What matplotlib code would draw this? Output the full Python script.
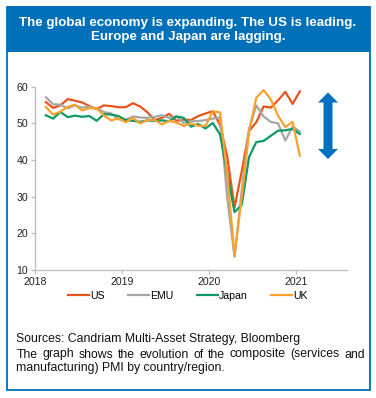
import numpy as np
import pandas as pd
import matplotlib
matplotlib.use('Agg')
import matplotlib.pyplot as plt
from matplotlib.patches import Rectangle, Polygon

plt.rcParams['font.family'] = ['Liberation Sans', 'DejaVu Sans']

## composite PMI, monthly Feb 2018 - Jan 2021
months = pd.date_range('2018-02-01', periods=36, freq='MS')
us = [55.8, 54.2, 54.9, 56.6, 56.2, 55.7, 54.7, 53.9, 54.9, 54.7, 54.4,
      54.4, 55.5, 54.6, 53.0, 50.9, 51.5, 52.6, 50.7, 51.0, 50.9, 52.0, 52.7,
      53.3, 49.6, 40.9, 27.0, 37.0, 47.9, 50.3, 54.6, 54.3, 56.3, 58.6, 55.3,
      58.7]
emu = [57.1, 55.2, 55.1, 54.1, 54.9, 54.3, 54.5, 54.1, 53.1, 52.7, 51.1,
       51.0, 51.9, 51.6, 51.5, 51.8, 52.2, 51.5, 51.9, 50.1, 50.6, 50.6, 50.9,
       51.3, 51.6, 29.7, 13.6, 31.9, 48.5, 54.9, 51.9, 50.4, 50.0, 45.3, 49.1,
       47.8]
japan = [52.2, 51.3, 53.1, 51.7, 52.1, 51.8, 52.0, 50.7, 52.5, 52.4, 52.0,
         50.9, 50.7, 50.4, 50.8, 50.7, 50.8, 50.6, 51.9, 51.5, 49.1, 49.8, 48.6,
         50.1, 47.0, 36.2, 25.8, 27.8, 40.8, 44.9, 45.2, 46.6, 48.0, 48.1, 48.5,
         47.1]
uk = [54.5, 52.4, 53.2, 54.5, 55.1, 53.5, 54.2, 54.1, 52.1, 50.8, 51.4,
      50.3, 51.5, 50.0, 50.9, 50.9, 49.7, 50.7, 50.2, 49.3, 50.0, 49.3, 49.3,
      53.3, 53.0, 36.0, 13.8, 30.0, 47.7, 57.0, 59.1, 56.5, 52.1, 49.0, 50.4,
      41.2]
series = {'US': us, 'EMU': emu, 'Japan': japan, 'UK': uk}
colors = {'US': '#E8551C', 'EMU': '#A6A6A6', 'Japan': '#0E9A62', 'UK': '#F9A12E'}
years = [2018, 2019, 2020, 2021]

title = 'The global economy is expanding. The US is leading.\nEurope and Japan are lagging.'
source = 'Sources: Candriam Multi-Asset Strategy, Bloomberg'
note1 = 'The graph shows the evolution of the composite (services and'
note2 = 'manufacturing) PMI by country/region.'

W, H = 376, 398
blue = '#0070B8'
fig = plt.figure(figsize=(W / 100, H / 100), dpi=100)
fig.patch.set_facecolor('white')

def fx(px):
    return px / W

def fy(py):
    return 1 - py / H

## frame and title band
fig.patches.append(Rectangle((fx(6.5), fy(390)), fx(363), (390 - 6.5) / H,
                             transform=fig.transFigure, fill=False,
                             edgecolor=blue, linewidth=1.3))
fig.patches.append(Rectangle((fx(6.5), fy(52)), fx(363), 46 / H,
                             transform=fig.transFigure, facecolor=blue,
                             edgecolor='none'))
fig.text(fx(188), fy(30), title, color='white', fontsize=9.6,
         fontweight='bold', ha='center', va='center', linespacing=1.2)

## chart
ax = fig.add_axes([fx(35), fy(270), fx(346.7 - 35), (270 - 86.7) / H])
x = months.year + (months.month - 0.5) / 12
for name, vals in series.items():
    ax.plot(x, vals, color=colors[name], lw=1.6, label=name)
ax.set_xlim(2018, 2021.58)
ax.set_ylim(10, 60)
ax.set_xticks(years)
ax.set_yticks([10, 20, 30, 40, 50, 60])
for s in ['top', 'right']:
    ax.spines[s].set_visible(False)
for s in ['left', 'bottom']:
    ax.spines[s].set_color('#BFBFBF')
    ax.spines[s].set_linewidth(1.0)
ax.tick_params(colors='#BFBFBF', labelcolor='#222222', labelsize=7.6,
               length=3, width=1, pad=2)
ax.patch.set_alpha(0)

leg = fig.legend(loc='center', bbox_to_anchor=(fx(188), fy(296)), ncol=4,
                 frameon=False, fontsize=7.6, handlelength=2.0,
                 handletextpad=0.1, columnspacing=2.2)

## double arrow
cx, top, bot = 328, 92.5, 159
shaft, head, hl = 4.5, 10, 10
pts = [(cx, top), (cx + head, top + hl), (cx + shaft, top + hl),
       (cx + shaft, bot - hl), (cx + head, bot - hl), (cx, bot),
       (cx - head, bot - hl), (cx - shaft, bot - hl), (cx - shaft, top + hl),
       (cx - head, top + hl)]
fig.patches.append(Polygon([(fx(a), fy(b)) for a, b in pts], closed=True,
                           transform=fig.transFigure, facecolor='#0070C0',
                           edgecolor='none'))

## notes
fs = 8.8
fig.text(fx(16.5), fy(339), source, fontsize=fs, ha='left', va='center',
         color='#111111')
fig.text(fx(16.5), fy(367.5), note2, fontsize=fs, ha='left', va='center',
         color='#111111')

# justified line: measure prefixes so kerning stays consistent
renderer = fig.canvas.get_renderer()

def textw(s):
    t = fig.text(0, 0, s, fontsize=fs)
    w = t.get_window_extent(renderer).width
    t.remove()
    return w

words = note1.split()
left, right = 16.5, 365
natural = textw(note1)
extra = (right - left - natural) / (len(words) - 1)
for i, w in enumerate(words):
    start = textw(' '.join(words[:i + 1])) - textw(w)
    fig.text(fx(left + start + i * extra), fy(354.5), w, fontsize=fs,
             ha='left', va='center', color='#111111')

fig.savefig('out.png', dpi=100)
